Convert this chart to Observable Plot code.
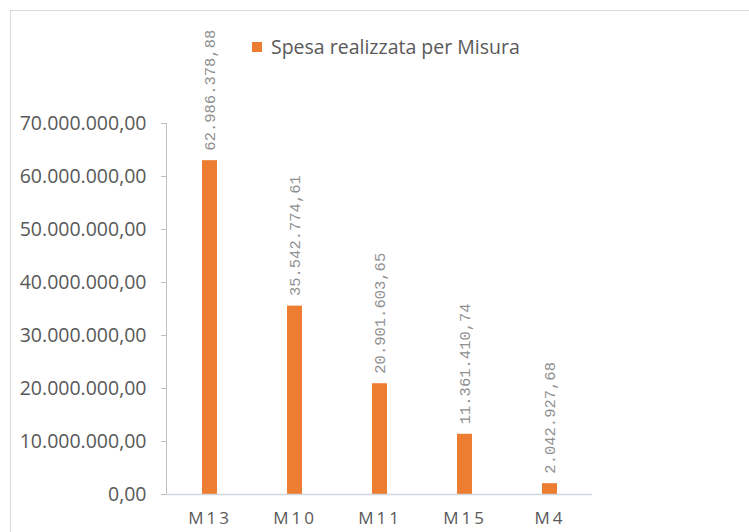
<!DOCTYPE html>
<html>
<head>
<meta charset="utf-8">
<script src="https://cdn.jsdelivr.net/npm/d3@7"></script>
<script src="https://cdn.jsdelivr.net/npm/@observablehq/plot@0.6"></script>
<style>
  html, body { margin: 0; padding: 0; background: #fff; }
  #wrap { position: relative; width: 749px; height: 532px; overflow: hidden; }
  #frame { position: absolute; left: 10px; top: 10px; width: 760px; height: 560px; border: 1px solid #d9d9d9; box-sizing: border-box; pointer-events: none; }
  #legend { position: absolute; left: 252px; top: 33px; font-family: "Open Sans", "Liberation Sans", sans-serif; font-size: 19.5px; color: #595959; display: flex; align-items: center; }
  #legend .sw { width: 10px; height: 10px; background: #ED7D31; margin-right: 9px; }
</style>
</head>
<body>
<div id="wrap">
  <div id="frame"></div>
  <div id="legend"><span class="sw"></span><span>Spesa realizzata per Misura</span></div>
</div>
<script>
const categories = ["M13", "M10", "M11", "M15", "M4"];
const values = [62986378.88, 35542774.61, 20901603.65, 11361410.74, 2042927.68];
const yTicks = [0, 10000000, 20000000, 30000000, 40000000, 50000000, 60000000, 70000000];
const seriesName = "Spesa realizzata per Misura";

const it = d3.formatLocale({decimal: ",", thousands: ".", grouping: [3], currency: ["", "€"]});
const fmt = it.format(",.2f");

const data = categories.map((c, i) => ({cat: c, value: values[i]}));

const chart = Plot.plot({
  width: 749,
  height: 532,
  marginLeft: 166,
  marginRight: 157,
  marginTop: 123,
  marginBottom: 38,
  style: {fontFamily: "'Open Sans', 'Liberation Sans', sans-serif", background: "transparent"},
  x: {domain: categories, paddingInner: 0.824, paddingOuter: 0.412, label: null},
  y: {domain: [0, 70000000], label: null},
  marks: [
    Plot.axisY({ticks: yTicks, tickFormat: fmt, tickSize: 5, tickPadding: 15, fontSize: 19.5, stroke: "#bfbfbf", color: "#595959"}),
    Plot.frame({anchor: "left", stroke: "#bfbfbf", strokeWidth: 1}),
    Plot.barY(data, {x: "cat", y: "value", fill: "#ED7D31", title: d => seriesName}),
    Plot.ruleY([0], {stroke: "#d0d7e0", strokeWidth: 1.5}),
    Plot.axisX({tickSize: 0, tickPadding: 17, fontSize: 17, color: "#595959"}),
    Plot.text(data, {x: "cat", y: "value", text: d => fmt(d.value), rotate: -90, textAnchor: "start", dy: -10, fill: "#909090", fontSize: 15.5, fontFamily: "'Liberation Mono', 'DejaVu Sans Mono', monospace"})
  ]
});
chart.style.position = "absolute";
chart.style.left = "0";
chart.style.top = "0";
chart.querySelectorAll('[aria-label="x-axis tick label"] text').forEach(t => t.setAttribute("letter-spacing", "3"));
document.getElementById("wrap").insertBefore(chart, document.getElementById("legend"));
</script>
</body>
</html>
